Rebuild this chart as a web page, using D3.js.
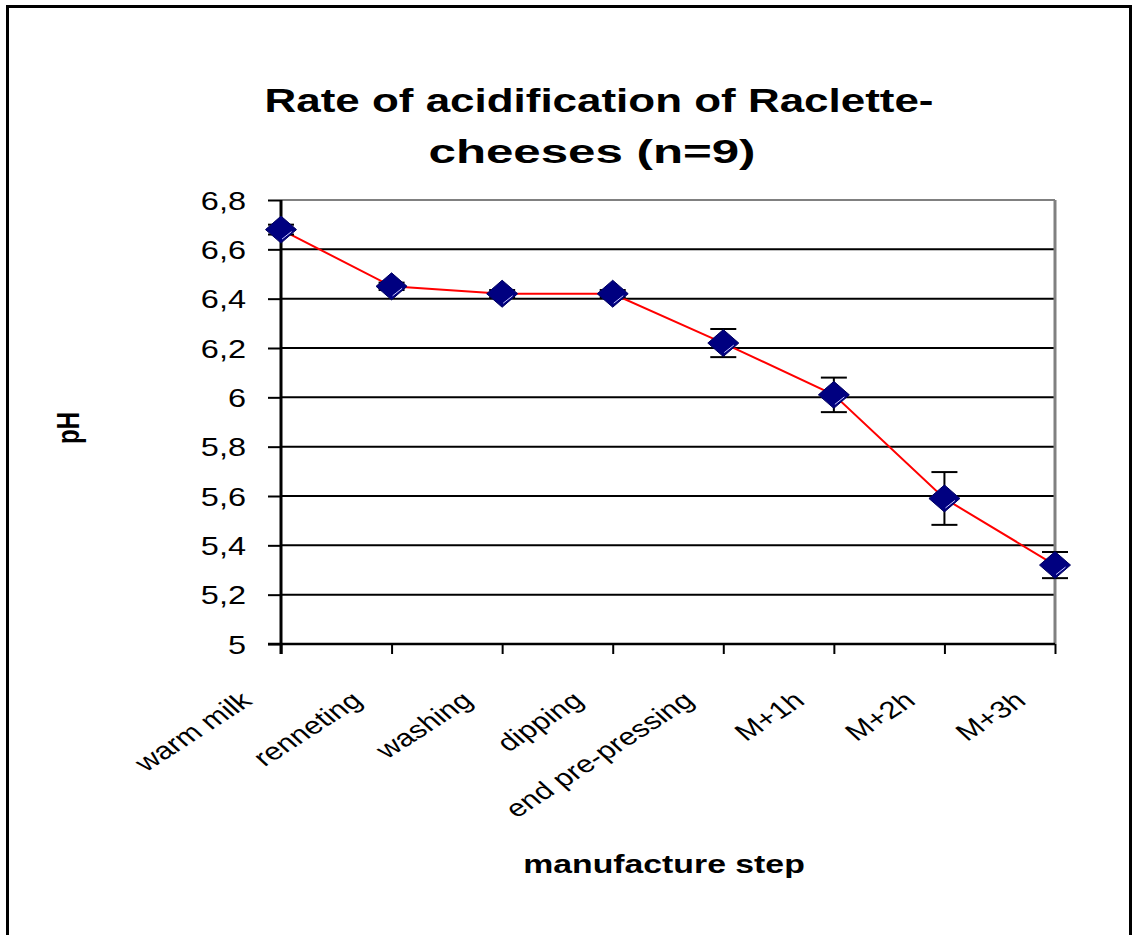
<!DOCTYPE html>
<html>
<head>
<meta charset="utf-8">
<script src="https://cdn.jsdelivr.net/npm/d3@7"></script>
<style>
  html, body { margin: 0; padding: 0; background: #fff; }
  svg { display: block; }
  text { font-family: "Liberation Sans", Arial, sans-serif; fill: #000; }
</style>
</head>
<body>
<svg id="chart" width="1134" height="935"></svg>
<script>
// ---- data ----
const categories = ["warm milk", "renneting", "washing", "dipping", "end pre-pressing", "M+1h", "M+2h", "M+3h"];
const phMean = [6.68, 6.45, 6.42, 6.42, 6.22, 6.01, 5.59, 5.32];
const phErr = [0.02, 0.015, 0.015, 0.015, 0.057, 0.07, 0.107, 0.053];
const yTicks = [5, 5.2, 5.4, 5.6, 5.8, 6, 6.2, 6.4, 6.6, 6.8];
const titleLines = ["Rate of acidification of Raclette-", "cheeses (n=9)"];
const xTitle = "manufacture step";
const yTitle = "pH";

const data = categories.map((c, i) => ({ cat: c, v: phMean[i], e: phErr[i] }));

// ---- layout ----
const plotL = 281, plotR = 1055, plotT = 200, plotB = 644;
const SX = 1.3; // horizontal stretch of the original rendering

const svg = d3.select("#chart");

// outer frame
svg.append("rect").attr("x", 7.5).attr("y", 6.5).attr("width", 1123).attr("height", 960)
  .attr("fill", "#fff").attr("stroke", "#000").attr("stroke-width", 3);

const x = d3.scalePoint().domain(categories).range([plotL, plotR]).padding(0);
const y = d3.scaleLinear().domain([5, 6.8]).range([plotB, plotT]);
const fmt = d => String(d).replace(".", ",");

// gridlines
svg.append("g").selectAll("line").data(yTicks.filter(t => t > 5)).join("line")
  .attr("x1", plotL).attr("x2", plotR)
  .attr("y1", d => y(d)).attr("y2", d => y(d))
  .attr("stroke", d => d === 6.8 ? "#808080" : "#000")
  .attr("stroke-width", 2);

// right border of plot area
svg.append("line").attr("x1", plotR).attr("x2", plotR).attr("y1", plotT).attr("y2", plotB)
  .attr("stroke", "#808080").attr("stroke-width", 3);

// y axis
const yAxis = svg.append("g").attr("transform", `translate(${plotL},0)`)
  .call(d3.axisLeft(y).tickValues(yTicks).tickSize(13).tickSizeOuter(0).tickFormat(fmt));
yAxis.select(".domain").remove();
yAxis.selectAll(".tick line").attr("stroke", "#000").attr("stroke-width", 2);
yAxis.selectAll(".tick text")
  .attr("x", null).attr("dy", "0.36em")
  .attr("text-anchor", "end")
  .attr("transform", `translate(-35,0) scale(${SX},1)`)
  .style("font-size", "25px");

// x axis
const xAxis = svg.append("g").attr("transform", `translate(0,${plotB})`)
  .call(d3.axisBottom(x).tickSize(10).tickSizeOuter(0));
xAxis.select(".domain").remove();
xAxis.selectAll(".tick line").attr("stroke", "#000").attr("stroke-width", 2);
xAxis.selectAll(".tick text")
  .attr("y", null).attr("dy", null)
  .attr("text-anchor", "end")
  .attr("transform", `translate(-28,59) scale(${SX},1) rotate(-40)`)
  .style("font-size", "24px");

// axis lines
svg.append("line").attr("x1", plotL - 13).attr("x2", plotR).attr("y1", plotB).attr("y2", plotB)
  .attr("stroke", "#000").attr("stroke-width", 2.5);
svg.append("line").attr("x1", plotL).attr("x2", plotL).attr("y1", plotT).attr("y2", plotB + 10)
  .attr("stroke", "#000").attr("stroke-width", 3);

// series line
svg.append("path").datum(data)
  .attr("fill", "none").attr("stroke", "#ff0000").attr("stroke-width", 2)
  .attr("d", d3.line().x(d => x(d.cat)).y(d => y(d.v)));

// error bars
const eb = svg.append("g").attr("stroke", "#000").attr("stroke-width", 2);
eb.selectAll("line.v").data(data).join("line").attr("class", "v")
  .attr("x1", d => x(d.cat)).attr("x2", d => x(d.cat))
  .attr("y1", d => y(d.v - d.e)).attr("y2", d => y(d.v + d.e));
eb.selectAll("line.t").data(data).join("line").attr("class", "t")
  .attr("x1", d => x(d.cat) - 13).attr("x2", d => x(d.cat) + 13)
  .attr("y1", d => y(d.v + d.e)).attr("y2", d => y(d.v + d.e));
eb.selectAll("line.b").data(data).join("line").attr("class", "b")
  .attr("x1", d => x(d.cat) - 13).attr("x2", d => x(d.cat) + 13)
  .attr("y1", d => y(d.v - d.e)).attr("y2", d => y(d.v - d.e));

// markers
const mw = 15.5, mh = 13.5;
const mk = svg.append("g").selectAll("g").data(data).join("g")
  .attr("transform", d => `translate(${x(d.cat)},${y(d.v)})`);
mk.append("path").attr("d", `M0,${-mh}L${mw},0L0,${mh}L${-mw},0Z`)
  .attr("fill", "#000080").attr("stroke", "#000060").attr("stroke-width", 1);
mk.append("line").attr("x1", mw - 5).attr("y1", 2).attr("x2", 1).attr("y2", mh - 4)
  .attr("stroke", "#c8c8ff").attr("stroke-width", 1);

// title
const titleW = [669, 327];
svg.append("g").selectAll("text").data(titleLines).join("text")
  .attr("transform", (d, i) => `translate(${i === 0 ? 599 : 592},${i === 0 ? 112 : 163}) scale(${SX},1)`)
  .attr("text-anchor", "middle")
  .attr("textLength", (d, i) => titleW[i] / SX)
  .attr("lengthAdjust", "spacingAndGlyphs")
  .style("font-size", "33.5px").style("font-weight", "bold")
  .text(d => d);

// axis titles
svg.append("text")
  .attr("transform", `translate(664,873) scale(${SX},1)`)
  .attr("text-anchor", "middle")
  .style("font-size", "26px").style("font-weight", "bold")
  .text(xTitle);
svg.append("text")
  .attr("transform", `translate(79,428) scale(${SX},1) rotate(-90)`)
  .attr("text-anchor", "middle")
  .style("font-size", "24px").style("font-weight", "bold")
  .text(yTitle);
</script>
</body>
</html>
